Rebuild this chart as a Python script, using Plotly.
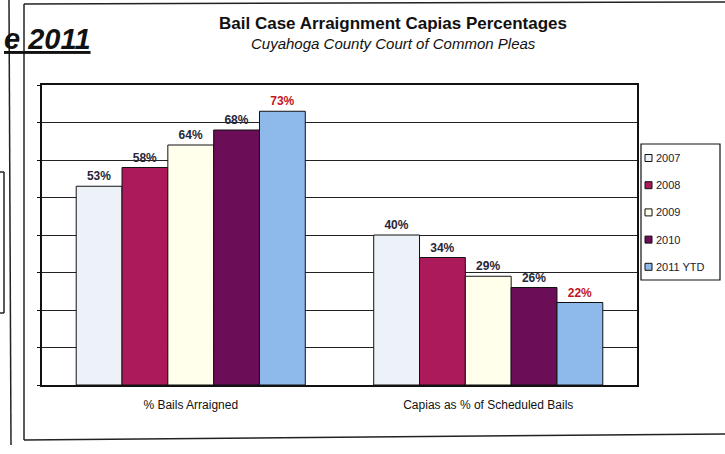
import plotly.graph_objects as go

categories = ["% Bails Arraigned", "Capias as % of Scheduled Bails"]
years = ["2007", "2008", "2009", "2010", "2011 YTD"]
values = {
    "2007": [53, 40],
    "2008": [58, 34],
    "2009": [64, 29],
    "2010": [68, 26],
    "2011 YTD": [73, 22],
}
colors = ["#EDF2F9", "#AC1A5C", "#FFFFEC", "#6B0D57", "#8DBAEA"]
label_colors = ["#262638", "#262638", "#262638", "#262638", "#C0161E"]

W, H = 725, 454
L, R, T, B = 42, 88, 85, 69
pw, ph = W - L - R, H - T - B


def px_x(x):
    return (x - L) / pw


def px_y(y):
    return (H - B - y) / ph


fig = go.Figure()
for i, yr in enumerate(years):
    fig.add_trace(go.Bar(
        name=yr, x=categories, y=values[yr],
        marker=dict(color=colors[i], line=dict(color="#111111", width=1)),
        text=[f"{v}%" for v in values[yr]], textposition="outside",
        textfont=dict(family="Arial, Liberation Sans", size=12, color=label_colors[i]),
        texttemplate="<b>%{text}</b>", cliponaxis=False,
    ))

fig.update_layout(
    width=W, height=H,
    margin=dict(l=L, r=R, t=T, b=B, autoexpand=False),
    paper_bgcolor="white", plot_bgcolor="white",
    barmode="group", bargap=0.23, bargroupgap=0,
    font=dict(family="Arial, Liberation Sans", size=12, color="#111111"),
    showlegend=False,
)
fig.update_yaxes(range=[0, 80], dtick=10, showticklabels=False,
                 showgrid=True, gridcolor="#222222", gridwidth=1,
                 showline=True, linecolor="#111111", linewidth=1.5, mirror=True,
                 ticks="outside", ticklen=3, tickcolor="#111111", zeroline=False)
fig.update_xaxes(showline=True, linecolor="#111111", linewidth=1.5, mirror=True,
                 tickfont=dict(size=12, color="#111111"), ticks="",
                 ticklabelstandoff=8)

# titles
fig.add_annotation(text="<b>Bail Case Arraignment Capias Percentages</b>",
                   x=px_x(393), y=px_y(24), xref="paper", yref="paper", yanchor="middle",
                   showarrow=False, font=dict(family="Arial, Liberation Sans", size=17, color="#111111"))
fig.add_annotation(text="<i>Cuyahoga County Court of Common Pleas</i>",
                   x=px_x(393), y=px_y(44), xref="paper", yref="paper", yanchor="middle",
                   showarrow=False, font=dict(family="Arial, Liberation Sans", size=15, color="#111111"))

# legend box drawn by hand (small square keys like the original)
lx0, lx1, ly0, ly1 = 641, 720, 144, 280
fig.add_shape(type="rect", xref="paper", yref="paper",
              x0=px_x(lx0), x1=px_x(lx1), y0=px_y(ly0), y1=px_y(ly1),
              line=dict(color="#111111", width=1.2), fillcolor="white")
for i, yr in enumerate(years):
    yc = 158 + i * 27.2
    fig.add_shape(type="rect", xref="paper", yref="paper",
                  x0=px_x(645), x1=px_x(652), y0=px_y(yc - 3.5), y1=px_y(yc + 3.5),
                  line=dict(color="#111111", width=1), fillcolor=colors[i])
    fig.add_annotation(text=yr, x=px_x(654), y=px_y(yc), xref="paper", yref="paper",
                       xanchor="left", yanchor="middle", showarrow=False,
                       font=dict(family="Arial, Liberation Sans", size=11, color="#1a1a2e"))

# slide fragment on the left
fig.add_annotation(text="<b><i><u>e 2011</u></i></b>",
                   x=px_x(2), y=px_y(39), xref="paper", yref="paper",
                   xanchor="left", yanchor="middle",
                   showarrow=False, font=dict(family="Arial, Liberation Sans", size=29, color="#111111"))

frame = [
    (24, 4, 24, 440), (24, 440, 725, 434), (24, 4, 725, 2),
    (9, 0, 11, 445), (0, 172, 4, 172), (4, 172, 4, 313), (0, 313, 4, 313),
]
for x0, y0, x1, y1 in frame:
    fig.add_shape(type="line", xref="paper", yref="paper",
                  x0=px_x(x0), y0=px_y(y0), x1=px_x(x1), y1=px_y(y1),
                  line=dict(color="#222222", width=1.5))

fig.write_html("out.html", config={"displayModeBar": False},
               post_script="document.body.style.margin='0';")
